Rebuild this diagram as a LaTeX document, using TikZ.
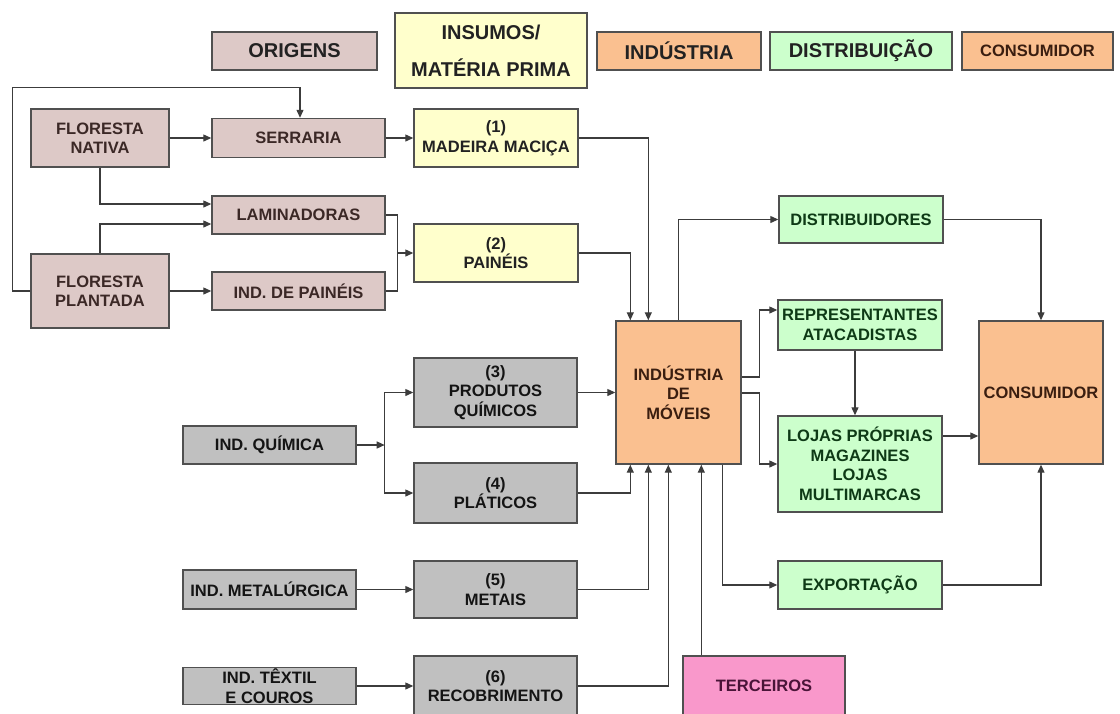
\documentclass[tikz,border=0pt]{standalone}
\usepackage{fontspec}
\setmainfont{Liberation Sans}
\usetikzlibrary{arrows.meta, positioning, calc}

\definecolor{origfill}{RGB}{221,201,199}
\definecolor{origtext}{RGB}{59,40,38}
\definecolor{insfill}{RGB}{255,255,204}
\definecolor{instext}{RGB}{34,34,34}
\definecolor{indfill}{RGB}{250,192,144}
\definecolor{indtext}{RGB}{58,30,16}
\definecolor{distfill}{RGB}{204,255,204}
\definecolor{disttext}{RGB}{14,58,22}
\definecolor{cinzafill}{RGB}{192,192,192}
\definecolor{cinzatext}{RGB}{20,20,20}
\definecolor{terfill}{RGB}{249,152,203}
\definecolor{tertext}{RGB}{74,20,56}
\definecolor{boxline}{RGB}{80,80,80}
\definecolor{linecol}{RGB}{60,60,60}

\begin{document}
\begin{tikzpicture}[
    x=1pt, y=-1pt,
    box/.style={draw=boxline, line width=1.4pt, align=center, inner sep=1pt, font=\fontsize{16.5}{19.5}\selectfont\bfseries},
    origbox/.style={box, fill=origfill, text=origtext},
    insbox/.style={box, fill=insfill, text=instext},
    indbox/.style={box, fill=indfill, text=indtext},
    distbox/.style={box, fill=distfill, text=disttext},
    cinzabox/.style={box, fill=cinzafill, text=cinzatext},
    terbox/.style={box, fill=terfill, text=tertext},
    header/.style={font=\fontsize{20}{37}\selectfont\bfseries, minimum height=38pt},
    arrow/.style={-{Triangle[length=8pt,width=7pt]}, draw=linecol, line width=1.2pt},
    line/.style={draw=linecol, line width=1.2pt}
]
    \useasboundingbox (0,0) rectangle (1120,713);

    % Legend row
    \node[origbox, header, minimum width=165pt, text=instext] (hOrig) at (294.5,51) {ORIGENS};
    \node[insbox, header, minimum width=192pt, minimum height=75pt] (hIns) at (491,50.5) {INSUMOS/\\MATÉRIA PRIMA};
    \node[indbox, header, minimum width=164pt, text=instext] (hInd) at (679,51) {INDÚSTRIA};
    \node[distbox, header, minimum width=182pt, text=instext] (hDist) at (861,51) {DISTRIBUIÇÃO};
    \node[indbox, minimum width=151pt, minimum height=38pt, font=\fontsize{16.5}{19}\selectfont\bfseries] (hCons) at (1037.5,51) {CONSUMIDOR};

    % Origins
    \node[origbox, minimum width=138pt, minimum height=58pt] (nativa) at (100,138) {FLORESTA\\NATIVA};
    \node[origbox, minimum width=138pt, minimum height=74pt] (plantada) at (100,291) {FLORESTA\\PLANTADA};
    \node[origbox, minimum width=173pt, minimum height=39pt] (serraria) at (298.5,138) {SERRARIA};
    \node[origbox, minimum width=173pt, minimum height=38pt] (lamin) at (298.5,215) {LAMINADORAS};
    \node[origbox, minimum width=173pt, minimum height=38pt] (indPaineis) at (298.5,291) {IND. DE PAINÉIS};

    % Raw material (wood)
    \node[insbox, minimum width=164pt, minimum height=58pt] (madeira) at (496,138) {(1)\\MADEIRA MACIÇA};
    \node[insbox, minimum width=164pt, minimum height=58pt] (paineis) at (496,253) {(2)\\PAINÉIS};

    % Other suppliers
    \node[cinzabox, minimum width=173pt, minimum height=38pt] (indQuim) at (269.5,445) {IND. QUÍMICA};
    \node[cinzabox, minimum width=173pt, minimum height=39pt] (indMetal) at (269.5,589.5) {IND. METALÚRGICA};
    \node[cinzabox, minimum width=173pt, minimum height=37pt] (indTextil) at (269.5,686) {IND. TÊXTIL\\E COUROS};
    \node[cinzabox, minimum width=163pt, minimum height=69pt] (quimicos) at (495.5,392.5) {(3)\\PRODUTOS\\QUÍMICOS};
    \node[cinzabox, minimum width=163pt, minimum height=60pt] (plasticos) at (495.5,493) {(4)\\PLÁTICOS};
    \node[cinzabox, minimum width=163pt, minimum height=57pt] (metais) at (495.5,589.5) {(5)\\METAIS};
    \node[cinzabox, minimum width=163pt, minimum height=60pt] (recob) at (495.5,686) {(6)\\RECOBRIMENTO};

    % Industry
    \node[indbox, minimum width=125pt, minimum height=143pt] (industria) at (678.5,392.5) {INDÚSTRIA\\DE\\MÓVEIS};
    \node[terbox, minimum width=162pt, minimum height=60pt] (terceiros) at (764,686) {TERCEIROS};

    % Distribution
    \node[distbox, minimum width=164pt, minimum height=47pt] (distrib) at (861,219.5) {DISTRIBUIDORES};
    \node[distbox, minimum width=164pt, minimum height=50pt] (repres) at (860,325) {REPRESENTANTES\\ATACADISTAS};
    \node[distbox, minimum width=164pt, minimum height=96pt] (lojas) at (860,464) {LOJAS PRÓPRIAS\\MAGAZINES\\LOJAS\\MULTIMARCAS};
    \node[distbox, minimum width=164pt, minimum height=48pt] (export) at (860,585) {EXPORTAÇÃO};

    % Consumer
    \node[indbox, minimum width=124pt, minimum height=143pt] (consumidor) at (1041,392.5) {CONSUMIDOR};

    % Wood chain
    \draw[arrow] (plantada.west) -- ++(-18,0) |- ($(serraria.north)+(1.5,-30)$) -- ($(serraria.north)+(1.5,0)$);
    \draw[arrow] (nativa.east) -- (serraria.west);
    \draw[arrow] (serraria.east) -- (madeira.west);
    \draw[arrow] (nativa.south) |- ($(lamin.west)+(0,-11)$);
    \draw[arrow] (plantada.north) |- ($(lamin.west)+(0,9)$);
    \draw[arrow] (plantada.east) -- (indPaineis.west);
    \coordinate (jPan) at ($(paineis.west)+(-16,0)$);
    \draw[line] (lamin.east) -| (jPan);
    \draw[line] (indPaineis.east) -| (jPan);
    \draw[arrow] (jPan) -- (paineis.west);
    \draw[arrow] (madeira.east) -| ($(industria.north west)+(33,0)$);
    \draw[arrow] (paineis.east) -| ($(industria.north west)+(15,0)$);

    % Other inputs
    \coordinate (jQuim) at ($(indQuim.east)+(28,0)$);
    \draw[arrow] (indQuim.east) -- (jQuim);
    \draw[arrow] (jQuim) |- (quimicos.west);
    \draw[arrow] (jQuim) |- (plasticos.west);
    \draw[arrow] (quimicos.east) -- (industria.west);
    \draw[arrow] (plasticos.east) -| ($(industria.south west)+(15,0)$);
    \draw[arrow] (indMetal.east) -- (metais.west);
    \draw[arrow] (metais.east) -| ($(industria.south west)+(33,0)$);
    \draw[arrow] (indTextil.east) -- (recob.west);
    \draw[arrow] (recob.east) -| ($(industria.south west)+(53,0)$);
    \draw[arrow] ($(terceiros.north west)+(19,0)$) -- ($(industria.south west)+(86,0)$);

    % Distribution channels
    \draw[arrow] (industria.north) |- (distrib.west);
    \draw[arrow] ($(industria.east)+(0,-15.5)$) -- ++(18,0) |- ($(repres.west)+(0,-15)$);
    \draw[arrow] ($(industria.east)+(0,0.5)$) -- ++(18,0) |- (lojas.west);
    \draw[arrow] ($(industria.south east)+(-19,0)$) |- (export.west);
    \draw[arrow] ($(repres.south)+(-5,0)$) -- ($(lojas.north)+(-5,0)$);

    % To the consumer
    \draw[arrow] (distrib.east) -| (consumidor.north);
    \draw[arrow] ($(lojas.east)+(0,-28)$) -- ($(consumidor.west)+(0,43.5)$);
    \draw[arrow] (export.east) -| (consumidor.south);

\end{tikzpicture}
\end{document}
